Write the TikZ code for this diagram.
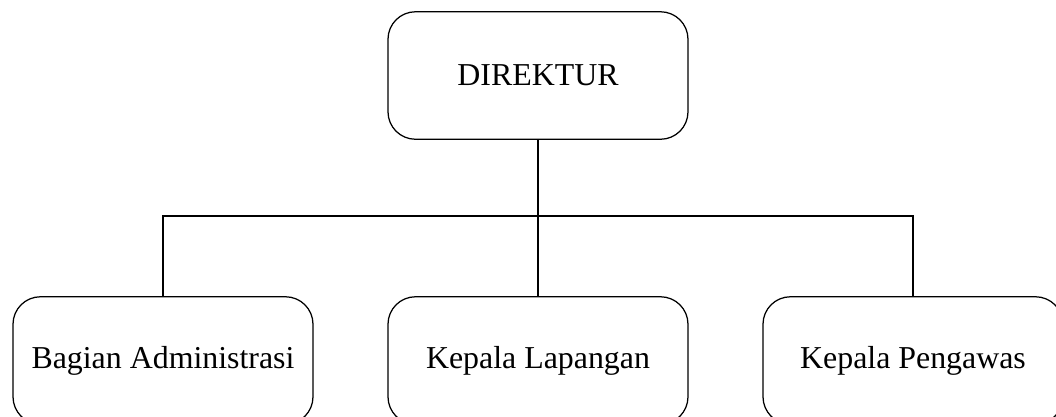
\documentclass[tikz,border=0pt]{standalone}
\usepackage{fontspec}
\setmainfont{Liberation Serif}
\usetikzlibrary{positioning}

\tikzset{
        unit/.style={draw=black, line width=0.5pt, rounded corners=11pt,
                minimum width=120pt, minimum height=51pt, font=\fontsize{12.75}{15}\selectfont},
        link/.style={line width=0.8pt}
}

\begin{document}
\begin{tikzpicture}[x=0.4pt,y=-0.4pt]
        \clip (0,0) rectangle (1056,416);
        \useasboundingbox (0,0) rectangle (1056,416);

        \node[unit] (dir) at (538,75.5) {DIREKTUR};
        \node[unit] (adm) at (163,360.5) {Bagian Administrasi};
        \node[unit] (lap) at (538,360.5) {Kepala Lapangan};
        \node[unit] (peng) at (913,360.5) {Kepala Pengawas};

        \coordinate (bus) at (538,216);

        \draw[link] (dir.south) -- (lap.north);
        \draw[link] (adm.north) |- (bus) -| (peng.north);
\end{tikzpicture}
\end{document}
